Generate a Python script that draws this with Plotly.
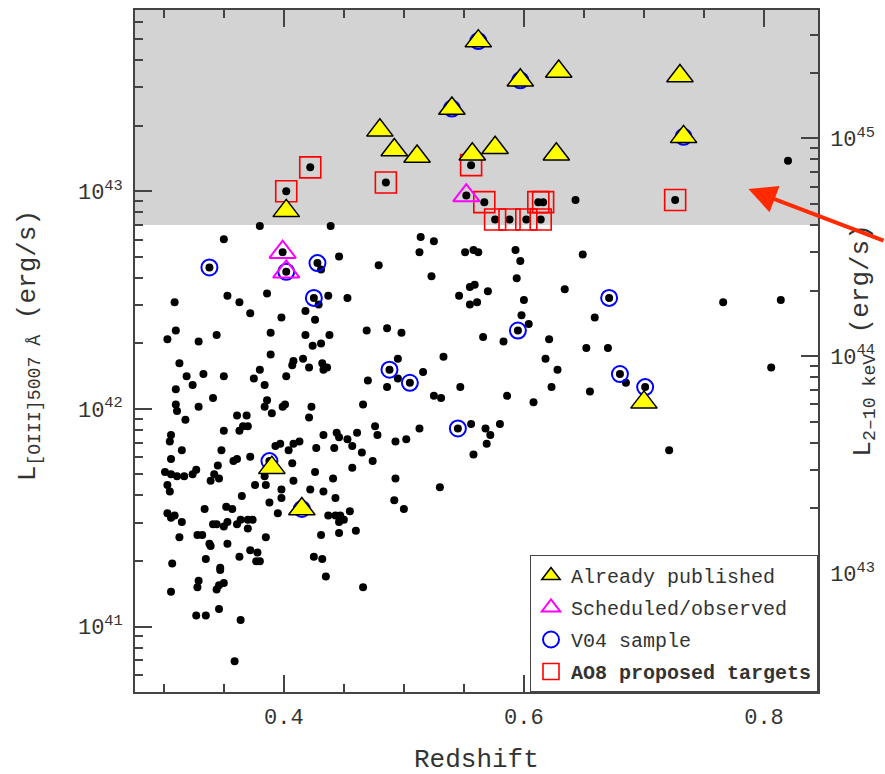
import numpy as np
import plotly.graph_objects as go

# ---------------- data (redshift, log10 L[OIII] in erg/s) ----------------
z_all = [
    0.402, 0.422, 0.485, 0.556, 0.552, 0.567, 0.612, 0.616, 0.576, 0.588,
    0.602, 0.614, 0.643, 0.726, 0.820, 0.380, 0.439, 0.350, 0.514, 0.525,
    0.399, 0.402, 0.338, 0.428, 0.431, 0.446, 0.479, 0.513, 0.523, 0.551,
    0.558, 0.562, 0.425, 0.429, 0.437, 0.453, 0.353, 0.363, 0.386, 0.309,
    0.372, 0.398, 0.418, 0.426, 0.546, 0.555, 0.559, 0.555, 0.561, 0.570,
    0.310, 0.303, 0.329, 0.344, 0.389, 0.418, 0.438, 0.431, 0.424, 0.469,
    0.486, 0.498, 0.566, 0.389, 0.313, 0.408, 0.407, 0.416, 0.421, 0.432,
    0.436, 0.433, 0.380, 0.402, 0.375, 0.384, 0.319, 0.333, 0.350, 0.324,
    0.310, 0.341, 0.470, 0.488, 0.495, 0.495, 0.505, 0.486, 0.516, 0.533,
    0.547, 0.525, 0.531, 0.310, 0.311, 0.329, 0.318, 0.386, 0.384, 0.401,
    0.399, 0.423, 0.390, 0.421, 0.466, 0.361, 0.369, 0.366, 0.370, 0.363,
    0.350, 0.306, 0.305, 0.315, 0.348, 0.306, 0.433, 0.444, 0.446, 0.453,
    0.457, 0.461, 0.476, 0.478, 0.513, 0.493, 0.502, 0.465, 0.474, 0.545,
    0.556, 0.568, 0.572, 0.569, 0.558, 0.393, 0.397, 0.404, 0.408, 0.413,
    0.427, 0.442, 0.372, 0.361, 0.358, 0.388, 0.407, 0.426, 0.441, 0.457,
    0.530, 0.493, 0.492, 0.500, 0.301, 0.306, 0.311, 0.317, 0.324, 0.327,
    0.303, 0.305, 0.345, 0.342, 0.339, 0.346, 0.384, 0.376, 0.385, 0.408,
    0.398, 0.398, 0.365, 0.388, 0.422, 0.433, 0.443, 0.395, 0.352, 0.357,
    0.334, 0.303, 0.306, 0.309, 0.315, 0.341, 0.344, 0.350, 0.353, 0.361,
    0.364, 0.370, 0.374, 0.370, 0.437, 0.443, 0.447, 0.446, 0.450, 0.455,
    0.460, 0.446, 0.431, 0.313, 0.328, 0.332, 0.385, 0.338, 0.339, 0.353,
    0.372, 0.378, 0.363, 0.335, 0.377, 0.380, 0.425, 0.432, 0.307, 0.347,
    0.347, 0.435, 0.466, 0.329, 0.328, 0.350, 0.346, 0.344, 0.306, 0.327,
    0.335, 0.346, 0.364, 0.359, 0.593, 0.597, 0.649, 0.594, 0.634, 0.671,
    0.766, 0.814, 0.600, 0.598, 0.604, 0.595, 0.583, 0.621, 0.659, 0.652,
    0.670, 0.618, 0.628, 0.680, 0.685, 0.701, 0.806, 0.586, 0.608, 0.623,
    0.655, 0.580, 0.721,
]
logL_all = [
    43.00, 43.11, 43.04, 43.12, 42.98, 42.95, 42.95, 42.95, 42.87, 42.87,
    42.87, 42.87, 42.96, 42.96, 43.14, 42.84, 42.84, 42.78, 42.79, 42.77,
    42.72, 42.63, 42.65, 42.67, 42.64, 42.70, 42.66, 42.72, 42.61, 42.72,
    42.73, 42.72, 42.51, 42.48, 42.52, 42.51, 42.52, 42.49, 42.53, 42.49,
    42.44, 42.42, 42.45, 42.41, 42.52, 42.56, 42.57, 42.48, 42.49, 42.54,
    42.36, 42.32, 42.31, 42.34, 42.35, 42.34, 42.34, 42.30, 42.29, 42.36,
    42.37, 42.35, 42.33, 42.25, 42.21, 42.22, 42.20, 42.23, 42.19, 42.21,
    42.19, 42.18, 42.18, 42.15, 42.14, 42.11, 42.15, 42.16, 42.15, 42.11,
    42.09, 42.05, 42.13, 42.18, 42.23, 42.14, 42.12, 42.10, 42.17, 42.24,
    42.10, 42.06, 42.05, 42.02, 41.99, 42.01, 41.95, 42.04, 42.01, 42.02,
    42.01, 42.01, 41.98, 41.96, 42.02, 41.97, 41.97, 41.92, 41.92, 41.90,
    41.90, 41.88, 41.85, 41.81, 41.81, 41.77, 41.88, 41.89, 41.87, 41.86,
    41.83, 41.89, 41.92, 41.88, 41.91, 41.85, 41.86, 41.80, 41.76, 41.91,
    41.93, 41.91, 41.88, 41.84, 41.79, 41.83, 41.84, 41.81, 41.84, 41.85,
    41.82, 41.82, 41.78, 41.77, 41.76, 41.76, 41.75, 41.71, 41.68, 41.73,
    41.64, 41.68, 41.58, 41.54, 41.71, 41.70, 41.69, 41.69, 41.70, 41.72,
    41.65, 41.62, 41.74, 41.70, 41.67, 41.68, 41.69, 41.65, 41.65, 41.67,
    41.63, 41.59, 41.60, 41.57, 41.63, 41.62, 41.59, 41.52, 41.55, 41.54,
    41.54, 41.52, 41.50, 41.51, 41.48, 41.47, 41.47, 41.46, 41.48, 41.47,
    41.49, 41.49, 41.49, 41.45, 41.51, 41.51, 41.51, 41.48, 41.49, 41.53,
    41.44, 41.43, 41.42, 41.41, 41.42, 41.42, 41.41, 41.38, 41.37, 41.38,
    41.35, 41.34, 41.32, 41.31, 41.30, 41.30, 41.32, 41.31, 41.29, 41.27,
    41.26, 41.23, 41.18, 41.21, 41.18, 41.20, 41.19, 41.17, 41.16, 41.05,
    41.05, 41.08, 41.03, 40.84, 42.73, 42.68, 42.71, 42.60, 42.55, 42.51,
    42.49, 42.50, 42.50, 42.43, 42.39, 42.36, 42.31, 42.32, 42.42, 42.28,
    42.28, 42.23, 42.18, 42.16, 42.12, 42.10, 42.19, 42.06, 42.03, 42.10,
    42.08, 41.93, 41.81,
]

z_published = [0.562, 0.540, 0.480, 0.492, 0.511, 0.557, 0.576, 0.597,
               0.629, 0.627, 0.730, 0.733, 0.402, 0.700, 0.390, 0.415]
logL_published = [43.69, 43.38, 43.28, 43.19, 43.16, 43.17, 43.20, 43.51,
                  43.55, 43.17, 43.53, 43.25, 42.91, 42.03, 41.73, 41.54]

z_scheduled = [0.399, 0.402, 0.552]
logL_scheduled = [42.72, 42.63, 42.98]

z_v04 = [0.562, 0.540, 0.597, 0.733, 0.388, 0.415, 0.338, 0.402, 0.428,
         0.425, 0.488, 0.505, 0.545, 0.671, 0.595, 0.680, 0.701]
logL_v04 = [43.69, 43.38, 43.51, 43.25, 41.76, 41.54, 42.65, 42.63, 42.67,
            42.51, 42.18, 42.12, 41.91, 42.51, 42.36, 42.16, 42.10]

z_ao8 = [0.402, 0.422, 0.485, 0.556, 0.567, 0.612, 0.616, 0.576, 0.588,
         0.602, 0.614, 0.726]
logL_ao8 = [43.00, 43.11, 43.04, 43.12, 42.95, 42.95, 42.95, 42.87, 42.87,
            42.87, 42.87, 42.96]

shade_threshold = 7e42          # lower edge of the grey band
log_lx_offset = 1.757           # log L(2-10 keV) - log L[OIII]
x_ticks = [0.4, 0.6, 0.8]
y_exps = [41, 42, 43]
y2_exps = [43, 44, 45]

# ---------------- figure ----------------
FONT = "Liberation Mono"
TXT = "#333333"
AX = "#444444"


def lum(v):
    return [10.0 ** x for x in v]


fig = go.Figure()
fig.add_trace(go.Scatter(x=z_all, y=lum(logL_all), mode="markers",
                         marker=dict(color="black", size=8),
                         showlegend=False, hoverinfo="skip"))
fig.add_trace(go.Scatter(x=z_v04, y=lum(logL_v04), mode="markers",
                         name="V04 sample", legendrank=3, legendgroup="c",
                         marker=dict(symbol="circle-open", size=16, color="blue",
                                     line=dict(width=2, color="blue"))))
fig.add_trace(go.Scatter(x=z_ao8, y=lum(logL_ao8), mode="markers",
                         name="<b>AO8 proposed targets</b>", legendrank=4, legendgroup="d",
                         marker=dict(symbol="square-open", size=21, color="red",
                                     line=dict(width=1.6, color="red"))))
fig.add_trace(go.Scatter(x=z_scheduled, y=lum(logL_scheduled), mode="markers",
                         name="Scheduled/observed", legendrank=2, legendgroup="b",
                         marker=dict(symbol="triangle-up-open", size=23, color="magenta",
                                     line=dict(width=2, color="magenta"))))
fig.add_trace(go.Scatter(x=z_published, y=lum(logL_published), mode="markers",
                         name="Already published", legendrank=1, legendgroup="a",
                         marker=dict(symbol="triangle-up", size=23, color="yellow",
                                     line=dict(width=1.5, color="black"))))
# empty trace so that the right-hand axis is drawn
fig.add_trace(go.Scatter(x=[], y=[], yaxis="y2", showlegend=False, hoverinfo="skip"))

fig.add_shape(type="rect", xref="x domain", x0=0, x1=1, yref="y",
              y0=shade_threshold, y1=1e44, fillcolor="#d3d3d3",
              line=dict(width=0), layer="below")

yr = [40.699, 43.833]

axis_common = dict(ticks="inside", ticklen=17, tickwidth=2, tickcolor=AX,
                   showline=True, linecolor=AX, linewidth=1.5,
                   showgrid=False, zeroline=False, layer="above traces",
                   tickfont=dict(family=FONT, size=22, color=TXT))
minor_common = dict(ticks="inside", ticklen=8, tickwidth=2, tickcolor=AX,
                    showgrid=False)

fig.update_layout(
    width=885, height=774,
    margin=dict(l=135, r=67, t=8, b=82),
    paper_bgcolor="white", plot_bgcolor="white",
    font=dict(family=FONT, size=20, color=TXT),
    showlegend=True,
    legend=dict(x=1, y=0, xanchor="right", yanchor="bottom",
                bgcolor="white", bordercolor=AX, borderwidth=1,
                font=dict(family=FONT, size=20, color=TXT),
                tracegroupgap=3, traceorder="grouped"),
    xaxis=dict(range=[0.276, 0.845], tickvals=x_ticks,
               ticktext=[f"{v:.1f}" for v in x_ticks], mirror="ticks",
               ticklabelstandoff=4,
               minor=dict(dtick=0.05, tick0=0, **minor_common),
               **axis_common),
    yaxis=dict(type="log", range=yr, tickvals=[10.0 ** e for e in y_exps],
               ticktext=[f"10<sup>{e}</sup>" for e in y_exps], mirror=False,
               ticklabelstandoff=6,
               minor=dict(dtick="D1", **minor_common),
               **axis_common),
    yaxis2=dict(type="log", overlaying="y", side="right",
                range=[yr[0] + log_lx_offset, yr[1] + log_lx_offset],
                tickvals=[10.0 ** e for e in y2_exps],
                ticktext=[f"10<sup>{e}</sup>" for e in y2_exps],
                ticklabelstandoff=6,
                minor=dict(dtick="D1", **minor_common),
                **axis_common),
)

fig.add_annotation(text="Redshift", xref="paper", yref="paper", x=0.5, y=-0.1,
                   xanchor="center", yanchor="middle", showarrow=False,
                   font=dict(family=FONT, size=26, color=TXT))
fig.add_annotation(text="L<sub>[OIII]5007 Å</sub> (erg/s)", xref="paper", yref="paper",
                   x=-0.155, y=0.507, xanchor="center", yanchor="middle",
                   textangle=-90, showarrow=False,
                   font=dict(family=FONT, size=26, color=TXT))
fig.add_annotation(text="(erg/s)", xref="paper", yref="paper",
                   x=1.063, y=0.605, xanchor="center", yanchor="middle",
                   textangle=-90, showarrow=False,
                   font=dict(family=FONT, size=26, color=TXT))
fig.add_annotation(text="L<sub>2\u201310 keV</sub>", xref="paper", yref="paper",
                   x=1.066, y=0.42, xanchor="center", yanchor="middle",
                   textangle=-90, showarrow=False,
                   font=dict(family=FONT, size=26, color=TXT))
# red arrow pointing at the grey region
fig.add_annotation(text="", xref="x", yref="y", x=0.787, y=43.01,
                   ax=150, ay=52, showarrow=True, arrowhead=2, arrowsize=1.4,
                   arrowwidth=4, arrowcolor="#ff2a00")

fig.write_html("out.html")
